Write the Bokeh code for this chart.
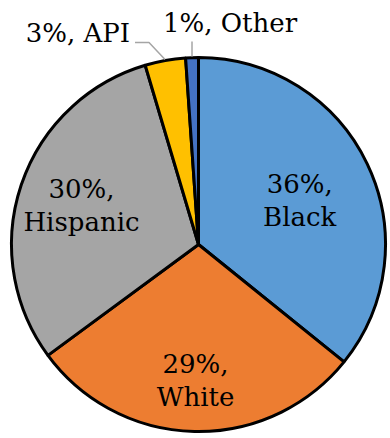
import math
from bokeh.plotting import figure
from bokeh.models import Range1d, ColumnDataSource
from bokeh.core.properties import value
from bokeh.embed import file_html
from bokeh.resources import INLINE

# ---- data ----
groups = ["Black", "White", "Hispanic", "API", "Other"]
shares = [35.8, 29.1, 30.5, 3.5, 1.1]
pct_labels = ["36%", "29%", "30%", "3%", "1%"]
colors = ["#5B9BD5", "#ED7D31", "#A5A5A5", "#FFC000", "#4472C4"]

# ---- layout ----
W, H = 390, 438
CX, CY, R = 198, 194, 187
FONT = "DejaVu Serif"
FS = "26px"

p = figure(width=W, height=H, output_backend="svg", toolbar_location=None,
           x_range=Range1d(0, W), y_range=Range1d(0, H),
           min_border=0, outline_line_color=None)
p.axis.visible = False
p.grid.visible = False

total = sum(shares)
starts, ends, mids = [], [], []
cum = 0.0
for s in shares:
    a0 = cum / total * 2 * math.pi
    cum += s
    a1 = cum / total * 2 * math.pi
    starts.append(math.pi / 2 - a0)
    ends.append(math.pi / 2 - a1)
    mids.append((a0 + a1) / 2)  # clockwise from top

src = ColumnDataSource(dict(start=starts, end=ends, color=colors,
                            x=[CX] * 5, y=[CY] * 5))
p.wedge(x="x", y="y", radius=R, start_angle="start", end_angle="end",
        direction="clock", fill_color="color", line_color="black",
        line_width=3, source=src)


def polar(theta, r):
    return CX + r * math.sin(theta), CY + r * math.cos(theta)

# inside labels
inside_r = [0.60, 0.73, 0.66]
y_shift = [-4, 0, 0]
lx, ly, lt = [], [], []
for i in range(3):
    x, y = polar(mids[i], R * inside_r[i])
    lx.append(x)
    ly.append(y + y_shift[i])
    lt.append(pct_labels[i] + ",\n" + groups[i])
p.text(x=lx, y=ly, text=lt, text_font=value(FONT), text_font_size=FS,
       text_align="center", text_baseline="middle", text_line_height=1.1,
       text_color="black")

# outside labels with leader lines
api_rim = polar(mids[3], R + 1)
other_rim = polar(mids[4], R + 1)
api_elbow = (api_rim[0] - 16, api_rim[1] + 17)
api_end = (api_elbow[0] - 14, api_elbow[1])
p.line(x=[api_rim[0], api_elbow[0], api_end[0]],
       y=[api_rim[1], api_elbow[1], api_end[1]], line_color="#A5A5A5",
       line_width=1.5)
other_end = (other_rim[0], other_rim[1] + 15)
p.line(x=[other_rim[0], other_end[0]], y=[other_rim[1], other_end[1]],
       line_color="#A5A5A5", line_width=1.5)

p.text(x=[api_end[0] - 5], y=[api_end[1] + 10],
       text=[pct_labels[3] + ", " + groups[3]], text_font=value(FONT),
       text_font_size=FS, text_align="right", text_baseline="middle",
       text_color="black")
p.text(x=[other_end[0] - 29], y=[other_end[1] + 19],
       text=[pct_labels[4] + ", " + groups[4]], text_font=value(FONT),
       text_font_size=FS, text_align="left", text_baseline="middle",
       text_color="black")

open("out.html", "w").write(file_html(p, INLINE))
